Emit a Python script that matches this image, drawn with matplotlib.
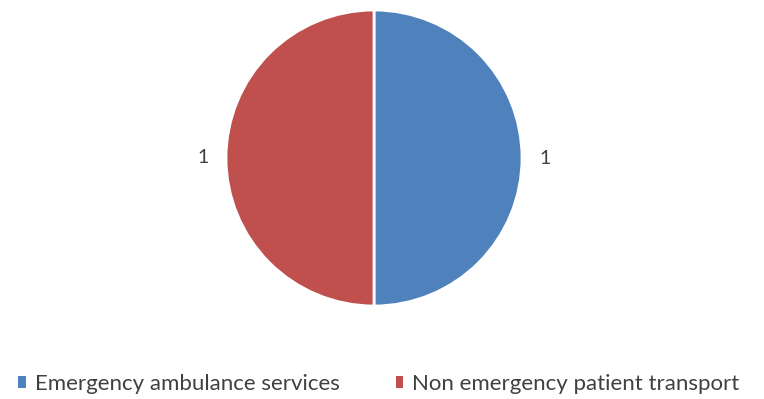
import matplotlib.pyplot as plt
from matplotlib.patches import Patch

categories = ['Emergency ambulance services', 'Non emergency patient transport']
values = [1, 1]
colors = ['#4F81BD', '#C0504D']

plt.rcParams['font.family'] = ['Lato', 'DejaVu Sans']

fig = plt.figure(figsize=(7.64, 3.99), dpi=100)
cx, cy, r = 374, 158, 148
ax = fig.add_axes([(cx - r) / 764, (399 - cy - r) / 399, 2 * r / 764, 2 * r / 399])
ax.pie(values, colors=colors, startangle=90, counterclock=False,
       labels=[str(v) for v in values], labeldistance=1.12,
       wedgeprops=dict(edgecolor='white', linewidth=2),
       textprops=dict(fontsize=14, color='#404040'))
ax.set_xlim(-1, 1)
ax.set_ylim(-1, 1)

handles = [Patch(facecolor=c, edgecolor='none') for c in colors]
fig.legend(handles, categories, loc='center', bbox_to_anchor=(0.496, 0.038), ncol=2,
           frameon=False, fontsize=16, labelcolor='#404040', handlelength=0.35,
           handleheight=0.5, handletextpad=0.4, columnspacing=2.5)

plt.savefig('out.png', dpi=100)
